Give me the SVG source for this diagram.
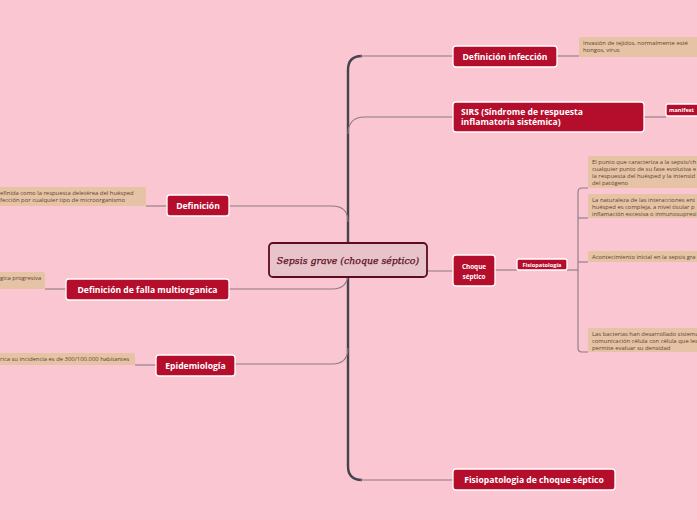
<svg xmlns="http://www.w3.org/2000/svg" width="697" height="520" viewBox="0 0 697 520">
<style>
.bg{fill:#f9c6d1}
.node rect{fill:#b50d2c;stroke:#ffffff;stroke-width:1.3}
.node text{fill:#ffffff;font-family:"Open Sans","DejaVu Sans",sans-serif;font-weight:bold;font-size:8.6px}
.sm text{font-size:6.4px}
.xs text{font-size:5.6px}
.note rect{fill:#e6c3a5;stroke:none}
.note text{fill:#5b4535;font-family:"Open Sans","DejaVu Sans",sans-serif;font-size:5.9px}
.br{fill:none;stroke:#8e7a82;stroke-width:1.1}
.trunk{fill:none;stroke:#44434d;stroke-width:2.4}
</style>
<rect class="bg" x="0" y="0" width="697" height="520"/>
<g id="connectors">
<path class="trunk" d="M362,56 Q348,56 348,70 L348,466 Q348,480 362,480"/>
<path class="br" d="M360,56 L453,56"/>
<path class="br" d="M348,134 Q348,117 365,117 L453,117"/>
<path class="br" d="M348,271 L453,271"/>
<path class="br" d="M360,480 L453,480"/>
<path class="br" d="M348,222 Q348,206 332,206 L229,206"/>
<path class="br" d="M348,273 Q348,289 332,289 L229,289"/>
<path class="br" d="M348,348 Q348,364 332,364 L235,364"/>
<path class="br" d="M167,206 L146,206"/>
<path class="br" d="M66,289 L45,289"/>
<path class="br" d="M156,365 L135,365"/>
<path class="br" d="M557,56 L579,56"/>
<path class="br" d="M644,117 L666,117"/>
<path class="br" d="M495,270 L517,270"/>
<path class="br" d="M567,270 L578,270"/>
<path class="br" d="M588,188 L582,188 Q578,188 578,192 L578,348 Q578,352 582,352 L588,352"/>
<path class="br" d="M578,218 L588,218"/>
<path class="br" d="M578,262 L588,262"/>
</g>
<g id="central">
<rect x="269" y="243" width="158" height="34" rx="4" fill="#e8c4ca" stroke="#5c0b20" stroke-width="1.8"/>
<text x="348" y="264" text-anchor="middle" font-family="'DejaVu Serif','Liberation Serif',serif" font-style="italic" font-size="9.4" fill="#5c0b20" stroke="#5c0b20" stroke-width="0.25">Sepsis grave (choque séptico)</text>
</g>
<g id="n-definicion" class="node">
<rect x="167" y="195" width="62" height="21" rx="3"/>
<text x="198" y="209" text-anchor="middle">Definición</text>
</g>
<g id="n-falla" class="node">
<rect x="66" y="279" width="163" height="21" rx="3"/>
<text x="147.5" y="293" text-anchor="middle">Definición de falla multiorganica</text>
</g>
<g id="n-epidemiologia" class="node">
<rect x="156" y="355" width="79" height="21" rx="3"/>
<text x="195.5" y="369" text-anchor="middle">Epidemiología</text>
</g>
<g id="n-def-infeccion" class="node">
<rect x="453" y="46" width="104" height="21" rx="3"/>
<text x="505" y="60" text-anchor="middle">Definición infección</text>
</g>
<g id="n-sirs" class="node">
<rect x="453" y="102" width="191" height="30" rx="3"/>
<text x="461" y="114.5">SIRS (Síndrome de respuesta</text>
<text x="461" y="125">inflamatoria sistémica)</text>
</g>
<g id="n-manifest" class="node xs">
<rect x="666" y="104" width="40" height="12" rx="2"/>
<text x="669" y="112">manifest</text>
</g>
<g id="n-choque" class="node sm">
<rect x="453" y="255" width="42" height="31" rx="3"/>
<text x="474" y="268.5" text-anchor="middle">Choque</text>
<text x="474" y="278.5" text-anchor="middle">séptico</text>
</g>
<g id="n-fisio" class="node xs">
<rect x="517" y="259" width="50" height="11" rx="2"/>
<text x="542" y="266.5" text-anchor="middle">Fisiopatología</text>
</g>
<g id="n-fisio-choque" class="node">
<rect x="453" y="469" width="162" height="21" rx="3"/>
<text x="534" y="483" text-anchor="middle">Fisiopatologia de choque séptico</text>
</g>
<g id="note-definicion" class="note">
<rect x="-10" y="187" width="156" height="19" rx="2"/>
<text x="0" y="195">efinida como la respuesta deletérea del huésped</text>
<text x="0" y="202">fección por cualquier tipo de microorganismo</text>
</g>
<g id="note-falla" class="note">
<rect x="-10" y="272" width="55" height="17" rx="2"/>
<text x="0" y="280">gica progresiva</text>
</g>
<g id="note-epi" class="note">
<rect x="-10" y="353" width="145" height="12" rx="2"/>
<text x="0" y="361">rica su incidencia es de 300/100.000 habitantes</text>
</g>
<g id="note-infeccion" class="note">
<rect x="579" y="37" width="130" height="20" rx="2"/>
<text x="583" y="45">Invasión de tejidos, normalmente esté</text>
<text x="583" y="52">hongos, virus</text>
</g>
<g id="note-a" class="note">
<rect x="588" y="156" width="120" height="32" rx="2"/>
<text x="592" y="164">El punto que caracteriza a la sepsis/ch</text>
<text x="592" y="171">cualquier punto de su fase evolutiva e</text>
<text x="592" y="178">la respuesta del huésped y la intensid</text>
<text x="592" y="185">del patógeno</text>
</g>
<g id="note-b" class="note">
<rect x="588" y="194" width="120" height="24" rx="2"/>
<text x="592" y="202">La naturaleza de las interacciones ent</text>
<text x="592" y="209">huésped es compleja, a nivel tisular p</text>
<text x="592" y="216">inflamación excesiva o inmunosupresi</text>
</g>
<g id="note-c" class="note">
<rect x="588" y="251" width="120" height="11" rx="2"/>
<text x="592" y="258.5">Acontecimiento inicial en la sepsis gra</text>
</g>
<g id="note-d" class="note">
<rect x="588" y="328" width="120" height="24" rx="2"/>
<text x="592" y="336">Las bacterias han desarrollado sistema</text>
<text x="592" y="343">comunicación célula con célula que les</text>
<text x="592" y="350">permite evaluar su densidad</text>
</g>
</svg>
